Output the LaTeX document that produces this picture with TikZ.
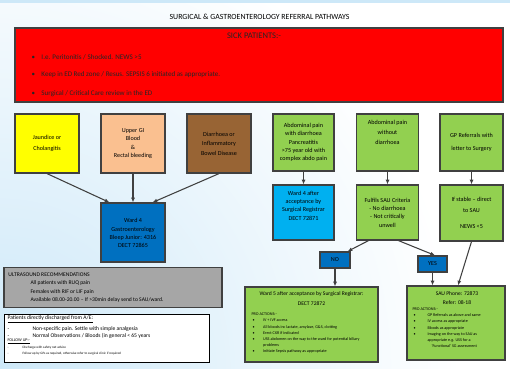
\documentclass[tikz,border=0pt]{standalone}
\usepackage{fontspec}
\setmainfont{Carlito}
\usetikzlibrary{arrows.meta,calc}

\definecolor{sickred}{RGB}{255,0,0}
\definecolor{jaundyellow}{RGB}{255,255,0}
\definecolor{peach}{RGB}{250,192,144}
\definecolor{ibdbrown}{RGB}{152,100,52}
\definecolor{gastroblue}{RGB}{0,112,192}
\definecolor{surgblue}{RGB}{0,176,240}
\definecolor{pathgreen}{RGB}{146,208,80}
\definecolor{usgray}{RGB}{166,166,166}
\definecolor{boxline}{RGB}{64,64,64}
\definecolor{bgblue}{RGB}{205,232,248}

\newcommand\titlefont{\fontsize{5.9}{7}\selectfont}
\newcommand\sickhead{\fontsize{6.4}{7}\selectfont}
\newcommand\sickfont{\fontsize{5.3}{6}\selectfont}
\newcommand\boxfont{\fontsize{4.6}{6.2}\selectfont}
\newcommand\smallfont{\fontsize{4.2}{5.5}\selectfont}
\newcommand\actfont{\fontsize{3.1}{4.6}\selectfont}
\newcommand\microfont{\fontsize{2.5}{3.5}\selectfont}

\tikzset{every picture/.style={line width=0.75pt}}
\tikzset{
  box/.style={draw=boxline, line width=0.9pt, align=center, inner sep=1pt, font=\boxfont},
  conn/.style={draw=boxline, line width=0.8pt, -{Latex[length=3.5pt,width=3pt]}},
  txt/.style={anchor=west, inner sep=0pt},
}

\begin{document}
\begin{tikzpicture}[x=0.75pt,y=0.75pt,yscale=-1,xscale=1]
\path[use as bounding box] (0,0) rectangle (510,368);

%Background
\shade[inner color=bgblue, outer color=white] (0,368) circle (460);
\fill[bgblue] (0,0) rectangle (510,3);

% Title
\node[font=\titlefont] (title) at (259.5,17) {SURGICAL \& GASTROENTEROLOGY REFERRAL PATHWAYS};

%Sick patients
\node[box, fill=sickred, minimum width=366pt, minimum height=55.5pt] (sick) at (259,65) {};
\node[font=\sickhead, text=black!85] (sickhead) at (254,36) {SICK PATIENTS:-};
\node[txt, font=\sickfont, text=black!85] (sick1) at (31,57) {\makebox[7.5pt][l]{\textbullet}I.e. Peritonitis / Shocked. NEWS >5};
\node[txt, font=\sickfont, text=black!85] (sick2) at (31,75) {\makebox[7.5pt][l]{\textbullet}Keep in ED Red zone / Resus. SEPSIS 6 initiated as appropriate.};
\node[txt, font=\sickfont, text=black!85] (sick3) at (31,94) {\makebox[7.5pt][l]{\textbullet}Surgical / Critical Care review in the ED};

%Gastro row
\node[box, fill=jaundyellow, minimum width=48pt, minimum height=44.25pt] (jaund) at (47,143.5) {Jaundice or\\[1.5pt]Cholangitis};
\node[box, fill=peach, minimum width=48pt, minimum height=44.25pt] (upgi) at (133,143.5) {Upper GI\\Blood\\\&\\Rectal bleeding};
\node[box, fill=ibdbrown, minimum width=48pt, minimum height=44.25pt] (ibd) at (219,143.5) {Diarrhoea or\\[1pt]Inflammatory\\[1pt]Bowel Disease};
\node[box, fill=gastroblue, minimum width=48pt, minimum height=44.25pt] (ward4) at (133,232.5) {\mbox{}\\[-2pt]Ward 4\\Gastroenterology\\Bleep Junior: 4316\\DECT 72865};

\draw[conn] (jaund.south) -- ($(ward4.north west)+(9,0)$);
\draw[conn] (upgi.south) -- (ward4.north);
\draw[conn] (ibd.south) -- ($(ward4.north east)+(-13,0)$);

%Surgical row
\node[box, fill=pathgreen, minimum width=45.75pt, minimum height=42.75pt] (abdo) at (303.5,142.5) {Abdominal pain\\with diarrhoea\\Pancreatitis\\>75 year old with\\complex abdo pain};
\node[box, fill=pathgreen, minimum width=46.5pt, minimum height=42.75pt] (nodiar) at (387.5,142.5) {Abdominal pain\\[1pt]without\\[1pt]diarrhoea\\[9pt]\mbox{}};
\node[box, fill=pathgreen, minimum width=47.25pt, minimum height=42.75pt] (gpref) at (471.5,142.5) {GP Referrals with\\[3pt]letter to Surgery};

\node[box, fill=surgblue, minimum width=45.75pt, minimum height=41.25pt] (ward4b) at (303.5,212.5) {Ward 4 after\\acceptance by\\Surgical Registrar\\DECT 72871\\[4pt]\mbox{}};
\node[box, fill=pathgreen, minimum width=46.5pt, minimum height=41.25pt] (saucrit) at (387.5,212.5) {Fulfils SAU Criteria\\- No diarrhoea\\- Not critically\\unwell};
\node[box, fill=pathgreen, minimum width=47.25pt, minimum height=42pt] (stable) at (471.5,213) {If stable -- direct\\[2pt]to SAU\\[6pt]NEWS <5};

\draw[conn] (abdo.south) -- (ward4b.north);
\draw[conn] (nodiar.south) -- (saucrit.north);
\draw[conn] (gpref.south) -- (stable.north);

\node[box, fill=gastroblue, minimum width=22.5pt, minimum height=12pt] (no) at (335,260) {NO};
\node[box, fill=gastroblue, minimum width=21.75pt, minimum height=12pt] (yes) at (432.5,264) {YES};

\draw[conn] ($(saucrit.south)+(-19,0)$) -- ($(no.north east)+(-3,0)$);
\draw[conn] ($(saucrit.south)+(11,0)$) -- ($(yes.north)+(2.5,0)$);

%Ward 5
\node[box, fill=pathgreen, minimum width=99.75pt, minimum height=56.25pt] (ward5) at (311.5,324.5) {};
\node[font=\smallfont] (w5head) at (311.5,294) {Ward 5 after acceptance by Surgical Registrar:};
\node[font=\smallfont] (w5dect) at (311.5,304) {DECT 72872};
\node[txt, font=\actfont] (w5pro) at (251,314) {PRO ACTIONS:-};
\node[txt, font=\actfont] (w5a) at (252,320) {\makebox[8pt][l]{\textbullet}IV + IVF access};
\node[txt, font=\actfont] (w5b) at (252,327) {\makebox[8pt][l]{\textbullet}All bloods inc lactate, amylase, G\&S, clotting};
\node[txt, font=\actfont] (w5c) at (252,333) {\makebox[8pt][l]{\textbullet}Erect CXR if indicated};
\node[txt, font=\actfont] (w5d) at (252,339) {\makebox[8pt][l]{\textbullet}USS abdomen on the way to the ward for potential biliary};
\node[txt, font=\actfont] (w5d2) at (262.7,345) {problems};
\node[txt, font=\actfont] (w5e) at (252,351) {\makebox[8pt][l]{\textbullet}Initiate Sepsis pathway as appropriate};

%SAU
\node[box, fill=pathgreen, minimum width=73.5pt, minimum height=55.5pt] (sau) at (456,323) {};
\node[font=\smallfont] (sauhead) at (457,294) {SAU Phone: 72873};
\node[font=\smallfont] (saurefer) at (457,303) {Refer: 08-18};
\node[txt, font=\actfont] (saupro) at (412,309) {PRO ACTIONS:-};
\node[txt, font=\actfont] (saua) at (413,315) {\makebox[10.5pt][l]{\textbullet}GP Referrals as above and same};
\node[txt, font=\actfont] (saub) at (413,321) {\makebox[10.5pt][l]{\textbullet}IV access as appropriate};
\node[txt, font=\actfont] (sauc) at (413,328) {\makebox[10.5pt][l]{\textbullet}Bloods as appropriate};
\node[txt, font=\actfont] (saud) at (413,334) {\makebox[10.5pt][l]{\textbullet}Imaging on the way to SAU as};
\node[txt, font=\actfont] (saud2) at (427,340) {appropriate e.g. USS for a};
\node[txt, font=\actfont] (saud3) at (431,346) {`Functional' SG assessment};

\draw[conn] (no.south) -- (no.south |- ward5.north);
\draw[conn] (yes.south) -- (yes.south |- sau.north);
\draw[conn] (stable.south) -- ($(sau.north)+(2,0)$);

%Ultrasound
\node[box, fill=usgray, minimum width=163.5pt, minimum height=30pt] (us) at (113,287.5) {};
\node[txt, font=\smallfont] (ushead) at (8,275) {ULTRASOUND RECOMMENDATIONS};
\node[txt, font=\smallfont] (us1) at (30,283) {All patients with RUQ pain};
\node[txt, font=\smallfont] (us2) at (30,292) {Females with RIF or LIF pain};
\node[txt, font=\smallfont] (us3) at (30,300) {Available 08.00-20.00 -- If >30min delay send to SAU/ward.};

%Discharged
\node[draw=black, line width=0.6pt, fill=white, minimum width=153.75pt, minimum height=36pt] (disch) at (106.5,338) {};
\node[txt, font=\smallfont] (dishead) at (7,319) {\underline{Patients directly discharged from A/E:}};
\node[txt, font=\smallfont] (dis1) at (7,329) {\makebox[18.75pt][l]{-}Non-specific pain. Settle with simple analgesia};
\node[txt, font=\smallfont] (dis2) at (7,336) {\makebox[18.75pt][l]{-}Normal Observations / Bloods (in general < 65 years};
\node[txt, font=\actfont] (fuhead) at (7,341.5) {\underline{FOLLOW UP:-}};
\node[txt, font=\microfont] (fu1) at (7,348) {\makebox[11.25pt][l]{-}Discharge with safety net advice};
\node[txt, font=\microfont] (fu2) at (7,354) {\makebox[11.25pt][l]{-}Follow up by GPs as required, otherwise refer to surgical clinic if required};

\end{tikzpicture}
\end{document}
